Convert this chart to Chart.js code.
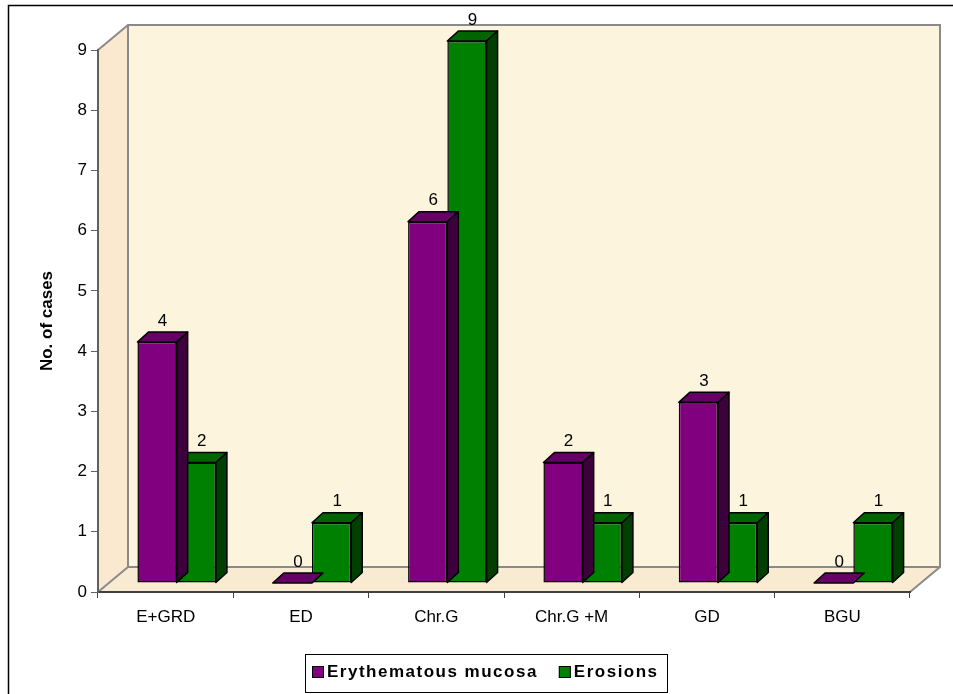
<!DOCTYPE html>
<html>
<head>
<meta charset="utf-8">
<script src="https://cdn.jsdelivr.net/npm/chart.js@4.4.1/dist/chart.umd.min.js"></script>
<style>
html, body { margin: 0; padding: 0; background: #fff; }
#wrap { position: relative; width: 953px; height: 694px; }
</style>
</head>
<body>
<div id="wrap"><canvas id="chart" width="953" height="694"></canvas></div>
<script>
const categories = ["E+GRD", "ED", "Chr.G", "Chr.G +M", "GD", "BGU"];
const erythematous = [4, 0, 6, 2, 3, 0];
const erosions = [2, 1, 9, 1, 1, 1];
const yTicks = [0, 1, 2, 3, 4, 5, 6, 7, 8, 9];

// 3d look
const WALL_DX = 30, WALL_DY = -25;   // depth of the walls
const ROW_DX = 11, ROW_DY = -9;      // where the bars stand in the depth
const BAR_DX = 11, BAR_DY = -10;     // depth of a bar
const faces = [
    { top: "#660066", side: "#3d003d" },
    { top: "#006400", side: "#003f00" }
];

function poly(ctx, pts, fill, stroke, lw) {
    ctx.beginPath();
    ctx.moveTo(pts[0][0], pts[0][1]);
    for (let i = 1; i < pts.length; i++) ctx.lineTo(pts[i][0], pts[i][1]);
    ctx.closePath();
    if (fill) { ctx.fillStyle = fill; ctx.fill(); }
    if (stroke) { ctx.strokeStyle = stroke; ctx.lineWidth = lw || 1; ctx.stroke(); }
}

const bars3d = {
    id: "bars3d",
    beforeDraw(chart) {
        const ctx = chart.ctx;
        const a = chart.chartArea;
        const L = a.left, R = a.right, T = a.top, B = a.bottom;
        ctx.save();
        // outer frame
        ctx.strokeStyle = "#000";
        ctx.lineWidth = 1.5;
        ctx.beginPath();
        ctx.moveTo(8.5, 700);
        ctx.lineTo(8.5, 5.5);
        ctx.lineTo(960, 5.5);
        ctx.stroke();
        // walls
        poly(ctx, [[L, T], [L + WALL_DX, T + WALL_DY], [L + WALL_DX, B + WALL_DY], [L, B]], "#fae9cf");
        poly(ctx, [[L + WALL_DX, T + WALL_DY], [R + WALL_DX, T + WALL_DY], [R + WALL_DX, B + WALL_DY], [L + WALL_DX, B + WALL_DY]], "#fdf4dd");
        poly(ctx, [[L, B], [L + WALL_DX, B + WALL_DY], [R + WALL_DX, B + WALL_DY], [R, B]], "#f9ebd2");
        ctx.strokeStyle = "#8a8a8a";
        ctx.lineWidth = 2;
        ctx.beginPath();
        ctx.moveTo(L, T);
        ctx.lineTo(L + WALL_DX, T + WALL_DY);
        ctx.lineTo(R + WALL_DX, T + WALL_DY);
        ctx.lineTo(R + WALL_DX, B + WALL_DY);
        ctx.lineTo(R, B);
        ctx.moveTo(L + WALL_DX, T + WALL_DY);
        ctx.lineTo(L + WALL_DX, B + WALL_DY);
        ctx.lineTo(R + WALL_DX, B + WALL_DY);
        ctx.moveTo(L + WALL_DX, B + WALL_DY);
        ctx.lineTo(L, B);
        ctx.stroke();
        ctx.restore();
    },
    beforeDatasetsDraw(chart) {
        chart.ctx.save();
        chart.ctx.translate(ROW_DX, ROW_DY);
    },
    afterDatasetDraw(chart, args) {
        const ctx = chart.ctx;
        const f = faces[args.index];
        ctx.save();
        ctx.lineJoin = "round";
        args.meta.data.forEach(bar => {
            const l = bar.x - bar.width / 2, r = bar.x + bar.width / 2;
            const top = Math.min(bar.y, bar.base), base = bar.base;
            poly(ctx, [[l, top], [l + BAR_DX, top + BAR_DY], [r + BAR_DX, top + BAR_DY], [r, top]], f.top, "#000", 1.5);
            if (base - top > 0.5) {
                poly(ctx, [[r, top], [r + BAR_DX, top + BAR_DY], [r + BAR_DX, base + BAR_DY], [r, base]], f.side, "#000", 1.5);
            }
        });
        ctx.restore();
    },
    afterDatasetsDraw(chart) {
        const ctx = chart.ctx;
        ctx.restore();
        ctx.save();
        ctx.font = "17px Arial";
        ctx.fillStyle = "#000";
        ctx.textAlign = "center";
        ctx.textBaseline = "middle";
        chart.data.datasets.forEach((ds, i) => {
            chart.getDatasetMeta(i).data.forEach((bar, j) => {
                ctx.fillText(String(ds.data[j]), bar.x + ROW_DX + BAR_DX / 2, bar.y + ROW_DY - 21);
            });
        });
        ctx.restore();
    },
    afterDraw(chart) {
        const ctx = chart.ctx;
        ctx.save();
        ctx.font = "bold 17px Arial";
        ctx.letterSpacing = "1.5px";
        ctx.textBaseline = "middle";
        ctx.textAlign = "left";
        const boxL = 305, boxT = 654, boxH = 38, cy = 672;
        const widths = chart.data.datasets.map(ds => ctx.measureText(ds.label).width);
        let x = boxL + 7;
        chart.data.datasets.forEach((ds, i) => {
            ctx.fillStyle = ds.backgroundColor;
            ctx.fillRect(x, cy - 6, 12, 12);
            ctx.strokeStyle = "#000";
            ctx.lineWidth = 1;
            ctx.strokeRect(x + 0.5, cy - 5.5, 11, 11);
            ctx.fillStyle = "#000";
            ctx.fillText(ds.label, x + 15, cy);
            x += 15 + widths[i] + 21;
        });
        ctx.strokeStyle = "#000";
        ctx.lineWidth = 1;
        ctx.strokeRect(boxL + 0.5, boxT + 0.5, 362, boxH);
        ctx.restore();
    }
};

new Chart(document.getElementById("chart"), {
    type: "bar",
    data: {
        labels: categories,
        datasets: [{
            label: "Erythematous mucosa",
            data: erythematous,
            backgroundColor: "#800080",
            borderColor: "#000",
            borderWidth: 1.5,
            borderSkipped: false
        }, {
            label: "Erosions",
            data: erosions,
            backgroundColor: "#008000",
            borderColor: "#000",
            borderWidth: 1.5,
            borderSkipped: false
        }]
    },
    options: {
        responsive: false,
        animation: false,
        devicePixelRatio: 1,
        layout: { padding: { top: 50, right: 43, bottom: 0, left: 0 } },
        datasets: { bar: { barPercentage: 1, categoryPercentage: 0.58, clip: false } },
        plugins: {
            legend: { display: false },
            tooltip: { enabled: false }
        },
        scales: {
            x: {
                offset: true,
                grid: { offset: true, drawOnChartArea: false, drawTicks: true, tickLength: 6, color: "#404040", lineWidth: 1 },
                border: { color: "#404040", width: 2 },
                ticks: { color: "#000", font: { family: "Arial", size: 17 }, padding: 9, maxRotation: 0, autoSkip: false },
                afterFit: s => { s.height = 102; }
            },
            y: {
                min: 0,
                max: 9,
                afterBuildTicks: s => { s.ticks = yTicks.map(v => ({ value: v })); },
                ticks: { color: "#000", font: { family: "Arial", size: 17 }, padding: 4 },
                grid: { drawOnChartArea: false, tickLength: 7, color: "#606060" },
                border: { color: "#606060", width: 2 },
                title: {
                    display: true,
                    text: "No. of cases",
                    color: "#000",
                    font: { family: "Arial", size: 17, weight: "bold" },
                    padding: { top: 37, bottom: 0 }
                },
                afterFit: s => { s.width = 98; }
            }
        }
    },
    plugins: [bars3d]
});
</script>
</body>
</html>
